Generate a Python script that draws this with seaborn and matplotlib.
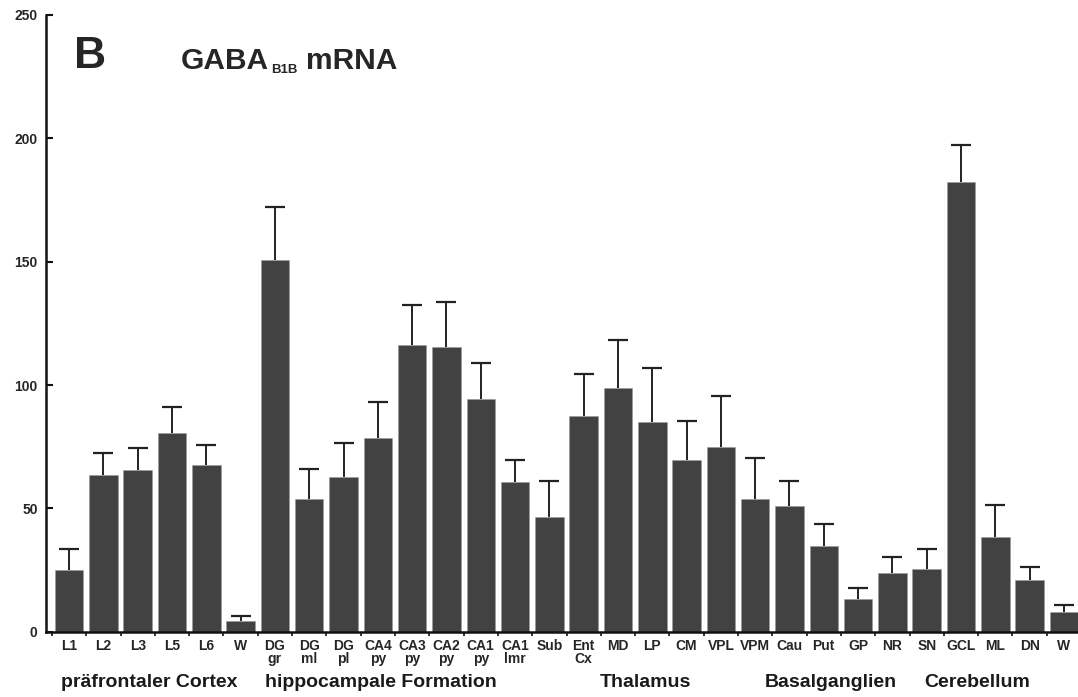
import numpy as np
import pandas as pd
import matplotlib
matplotlib.use('Agg')
import matplotlib.pyplot as plt
import seaborn as sns

# brain regions (tick labels, two-line where the original has two lines)
regions = ['L1', 'L2', 'L3', 'L5', 'L6', 'W',
           'DG\ngr', 'DG\nml', 'DG\npl', 'CA4\npy', 'CA3\npy', 'CA2\npy', 'CA1\npy', 'CA1\nlmr',
           'Sub', 'Ent\nCx',
           'MD', 'LP', 'CM', 'VPL', 'VPM',
           'Cau', 'Put', 'GP', 'NR', 'SN',
           'GCL', 'ML', 'DN', 'W']

# mean signal and upper error (SEM)
means = [25.0, 63.5, 65.5, 80.5, 67.6, 4.3,
         150.7, 53.8, 62.8, 78.4, 116.2, 115.5, 94.2, 60.8,
         46.3, 87.6,
         98.7, 85.1, 69.5, 75.0, 53.9,
         51.0, 34.9, 13.3, 23.7, 25.3,
         182.2, 38.3, 21.0, 8.0]
errors = [8.4, 9.1, 9.1, 10.5, 8.1, 2.2,
          21.3, 12.0, 13.6, 14.6, 16.1, 18.1, 14.6, 8.8,
          14.9, 16.9,
          19.5, 21.7, 15.9, 20.5, 16.6,
          10.1, 8.8, 4.4, 6.5, 8.2,
          15.1, 13.1, 5.1, 2.7]

# anatomical groups: (label, centre position in bar units)
groups = ['präfrontaler Cortex', 'hippocampale Formation', 'Thalamus', 'Basalganglien', 'Cerebellum']
group_centres = [2.35, 9.08, 16.8, 22.2, 26.48]

sns.set_style('ticks')
plt.rcParams['font.family'] = ['Liberation Sans', 'DejaVu Sans']
plt.rcParams['font.weight'] = 'bold'

df = pd.DataFrame({'idx': np.arange(len(regions)), 'mean': means, 'err': errors})

fig = plt.figure(figsize=(10.78, 6.97), dpi=100)
ax = fig.add_axes([46 / 1078, 1 - 631.7 / 697, 1 - 46 / 1078, 616.7 / 697])

sns.barplot(data=df, x='idx', y='mean', color='#424242', saturation=1, width=0.83,
            errorbar=None, ax=ax, edgecolor='#9a9a9a', linewidth=0.4)

eb = ax.errorbar(df['idx'], df['mean'], yerr=[np.zeros(len(df)), df['err']], fmt='none',
                 ecolor='#222222', elinewidth=1.4, capsize=7.5, capthick=1.6, zorder=3)
eb[1][0].set_visible(False)  # hide the lower caps

ax.set_xlim(-0.673, 29.41)
ax.set_ylim(0, 250)
ax.set_yticks([0, 50, 100, 150, 200, 250])
ax.set_xticks(np.arange(len(regions)))
ax.set_xticklabels(regions, fontsize=10, fontweight='bold', linespacing=0.95, va='top')
ax.set_xticks(np.arange(len(regions)) - 0.5, minor=True)
ax.tick_params(axis='x', which='major', length=0, pad=5)
ax.tick_params(axis='x', which='minor', length=3, width=1.3, direction='out', color='#222222')
ax.tick_params(axis='y', direction='in', length=5, width=1.5, pad=6, labelsize=10, color='#111111')
for lab in ax.get_yticklabels():
    lab.set_fontweight('bold')
ax.set_xlabel('')
ax.set_ylabel('')
sns.despine(ax=ax)
for side in ['left', 'bottom']:
    ax.spines[side].set_linewidth(1.8)
    ax.spines[side].set_color('#111111')

for name, xc in zip(groups, group_centres):
    ax.text(xc, -0.083, name, transform=ax.get_xaxis_transform(), ha='center', va='center',
            fontsize=14, fontweight='bold', color='#1a1a1a')

# panel letter and title with subscript
fig.text(74 / 1078, 1 - 56 / 697, 'B', fontsize=32, fontweight='bold', va='center', ha='left')
renderer = fig.canvas.get_renderer()
t1 = fig.text(181 / 1078, 1 - 69 / 697, 'GABA', fontsize=21.5, fontweight='bold', va='baseline', ha='left')
bb = t1.get_window_extent(renderer)
t2 = fig.text(bb.x1 / 1078 + 2 / 1078, 1 - 73 / 697, 'B1B', fontsize=9.5, fontweight='bold', va='baseline', ha='left')
bb2 = t2.get_window_extent(renderer)
fig.text(bb2.x1 / 1078 + 9 / 1078, 1 - 69 / 697, 'mRNA', fontsize=21.5, fontweight='bold', va='baseline', ha='left')

fig.savefig('out.png', dpi=100)
